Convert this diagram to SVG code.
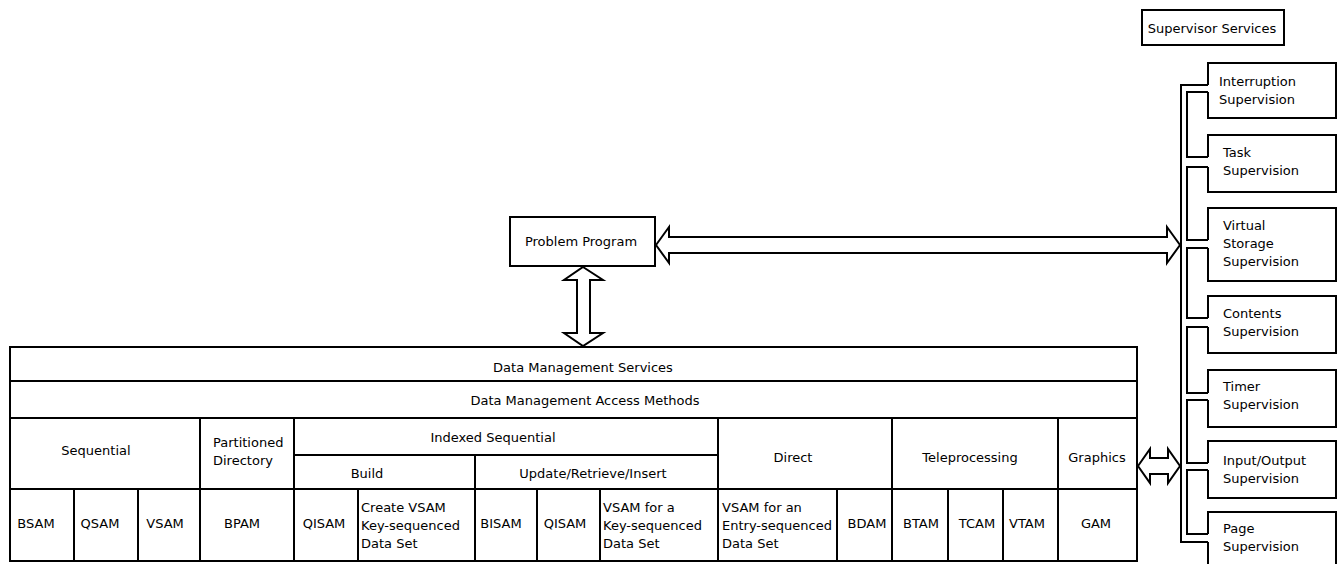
<svg xmlns="http://www.w3.org/2000/svg" width="1342" height="564" viewBox="0 0 1342 564">
<style>
.ln{fill:none;stroke:#000;stroke-width:2}
.bx{fill:#fff;stroke:#000;stroke-width:2}
.ar{fill:#fff;stroke:#000;stroke-width:2;stroke-linejoin:miter}
text{font-family:"DejaVu Sans",sans-serif;font-size:13px;fill:#000}
.c{text-anchor:middle}
</style>
<rect width="1342" height="564" fill="#fff"/>

<g id="supervisor-services">
<rect class="bx" x="1142" y="10" width="142" height="35"/>
<text class="c" x="1212" y="33">Supervisor Services</text>
</g>

<g id="problem-program">
<rect class="bx" x="510" y="217" width="145" height="49"/>
<text class="c" x="581" y="246">Problem Program</text>
</g>

<g id="interruption-supervision">
<path class="ln" d="M1208,85 V63 H1336 V118 H1208 V92"/>
<text x="1219" y="86">Interruption</text>
<text x="1219" y="104">Supervision</text>
</g>
<g id="task-supervision">
<path class="ln" d="M1208,157 V135 H1336 V192 H1208 V167"/>
<text x="1223" y="157">Task</text>
<text x="1223" y="175">Supervision</text>
</g>
<g id="virtual-storage-supervision">
<path class="ln" d="M1208,240 V208 H1336 V281 H1208 V248"/>
<text x="1223" y="230">Virtual</text>
<text x="1223" y="248">Storage</text>
<text x="1223" y="266">Supervision</text>
</g>
<g id="contents-supervision">
<path class="ln" d="M1208,318 V296 H1336 V353 H1208 V327"/>
<text x="1223" y="318">Contents</text>
<text x="1223" y="336">Supervision</text>
</g>
<g id="timer-supervision">
<path class="ln" d="M1208,393 V370 H1336 V427 H1208 V400"/>
<text x="1223" y="391">Timer</text>
<text x="1223" y="409">Supervision</text>
</g>
<g id="io-supervision">
<path class="ln" d="M1208,463 V441 H1336 V498 H1208 V470"/>
<text x="1223" y="465">Input/Output</text>
<text x="1223" y="483">Supervision</text>
</g>
<g id="page-supervision">
<path class="ln" d="M1208,534 V512 H1336 V570 M1208,542 V570"/>
<text x="1223" y="533">Page</text>
<text x="1223" y="551">Supervision</text>
</g>

<g id="data-management">
<rect class="ln" x="10" y="347" width="1127" height="214"/>
<path class="ln" d="M10,381 H1137 M10,418 H1137 M294,455 H718 M10,489 H1137
M200,418 V561 M294,418 V561 M718,418 V561 M892,418 V561 M1058,418 V561
M74,489 V561 M138,489 V561 M358,489 V561 M475,455 V561 M537,489 V561 M600,489 V561
M837,489 V561 M948,489 V561 M1003,489 V561"/>
<text class="c" x="583" y="372">Data Management Services</text>
<text class="c" x="585" y="405">Data Management Access Methods</text>
<text class="c" x="96" y="455">Sequential</text>
<text x="213" y="447">Partitioned</text>
<text x="213" y="465">Directory</text>
<text class="c" x="493" y="442">Indexed Sequential</text>
<text class="c" x="367" y="478">Build</text>
<text class="c" x="593" y="478">Update/Retrieve/Insert</text>
<text class="c" x="793" y="462">Direct</text>
<text class="c" x="970" y="462">Teleprocessing</text>
<text class="c" x="1097" y="462">Graphics</text>
<text class="c" x="36" y="528">BSAM</text>
<text class="c" x="100" y="528">QSAM</text>
<text class="c" x="165" y="528">VSAM</text>
<text class="c" x="242" y="528">BPAM</text>
<text class="c" x="324" y="528">QISAM</text>
<text x="361" y="512">Create VSAM</text>
<text x="361" y="530">Key-sequenced</text>
<text x="361" y="548">Data Set</text>
<text class="c" x="501" y="528">BISAM</text>
<text class="c" x="565" y="528">QISAM</text>
<text x="603" y="512">VSAM for a</text>
<text x="603" y="530">Key-sequenced</text>
<text x="603" y="548">Data Set</text>
<text x="722" y="512">VSAM for an</text>
<text x="722" y="530">Entry-sequenced</text>
<text x="722" y="548">Data Set</text>
<text class="c" x="867" y="528">BDAM</text>
<text class="c" x="921" y="528">BTAM</text>
<text class="c" x="977" y="528">TCAM</text>
<text class="c" x="1027" y="528">VTAM</text>
<text class="c" x="1096" y="528">GAM</text>
</g>

<g id="connectors">
<path class="ln" d="M1208,85 H1181 V542 H1208"/>
<path class="ln" d="M1208,92 H1187 V157 H1208 M1208,167 H1187 V240 H1208 M1208,248 H1187 V318 H1208 M1208,327 H1187 V393 H1208 M1208,400 H1187 V463 H1208 M1208,470 H1187 V534 H1208"/>
<path class="ar" d="M656,245 L669,227 L669,237 L1167,237 L1167,227 L1180,245 L1167,263 L1167,253 L669,253 L669,263 Z"/>
<path class="ar" d="M583,267 L603,280 L590,280 L590,333 L603,333 L583,346 L564,333 L577,333 L577,280 L564,280 Z"/>
<path class="ar" d="M1138,466 L1150,449 L1150,458 L1168,458 L1168,449 L1180,466 L1168,483 L1168,474 L1150,474 L1150,483 Z"/>
</g>
</svg>
